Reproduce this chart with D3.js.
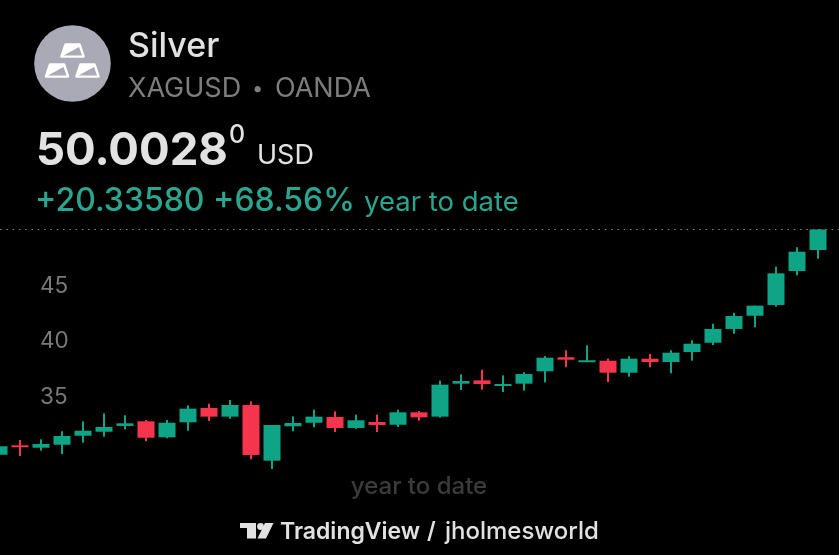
<!DOCTYPE html>
<html>
<head>
<meta charset="utf-8">
<script src="https://cdn.jsdelivr.net/npm/d3@7"></script>
<style>
  html, body { margin: 0; padding: 0; background: #000; }
  svg { display: block; font-family: Inter, "Noto Sans", sans-serif; filter: blur(0.4px); }
</style>
</head>
<body>
<svg id="chart" width="839" height="555"></svg>
<script>
// Candles, oldest first
const opens  = [29.71,30.56,30.34,30.61,31.42,31.78,32.30,32.72,31.28,32.63,33.92,33.14,34.19,29.17,32.27,32.59,33.11,32.12,32.66,32.41,33.53,33.14,36.11,36.41,35.90,36.11,37.23,38.49,38.06,38.18,37.10,38.36,38.06,38.96,39.80,41.04,42.23,43.20,46.26,48.15];
const highs  = [30.68,31.04,31.10,31.82,32.72,33.44,33.26,32.84,32.84,34.16,34.31,34.64,34.52,32.39,33.17,33.77,33.62,33.32,33.32,33.77,33.65,36.38,36.95,37.37,36.86,37.14,38.60,39.12,39.57,38.36,38.58,38.78,39.12,40.02,41.51,42.50,43.14,46.65,48.40,50.00];
const lows   = [29.50,29.59,30.07,29.77,30.79,31.33,32.00,30.92,31.19,31.87,32.75,32.95,29.30,28.42,31.82,32.18,31.76,32.05,31.76,32.21,32.77,33.05,35.54,35.57,35.36,35.48,36.23,37.59,38.06,36.26,36.74,37.59,37.05,38.18,39.59,40.61,41.19,43.05,45.87,47.37];
const closes = [30.47,30.38,30.68,31.40,31.87,32.21,32.54,31.24,32.59,33.86,33.14,34.19,29.68,32.39,32.57,33.14,32.12,32.81,32.39,33.53,33.08,36.02,36.35,36.08,36.08,36.98,38.45,38.27,38.22,37.10,38.36,38.06,38.90,39.71,41.04,42.21,43.14,46.05,48.00,50.00];
const priceTicks = [35, 40, 45];
const lastPrice = 50;

const upColor = '#0ea485';
const downColor = '#f5344e';
const candleWidth = 17;

const svg = d3.select('svg#chart');

// Scales
const x = d3.scaleLinear().domain([0, opens.length - 1]).range([-1, 818]);
const y = d3.scaleLinear().domain([45, 40, 35]).range([285, 340.5, 396]);

// Header and footer text
function label (px, py, str, size, weight, color, anchor) {
  return svg.append('text')
    .attr('x', px).attr('y', py)
    .attr('font-size', size).attr('font-weight', weight)
    .attr('fill', color).attr('text-anchor', anchor || 'start')
    .text(str);
}

// Silver icon
svg.append('circle').attr('cx', 72.5).attr('cy', 63.5).attr('r', 38.3).attr('fill', '#aaa9b6');
const ingots = [[72.5, 44.5], [57, 64.5], [87.5, 64.5]];
ingots.forEach(([ix, iy]) => {
  const g = svg.append('g').attr('transform', `translate(${ix},${iy})`);
  g.append('path')
    .attr('d', 'M-7,0 L7,0 L11,12 L-11,12 Z')
    .attr('fill', '#fff').attr('stroke', '#fff').attr('stroke-width', 2.5).attr('stroke-linejoin', 'round');
  // grey wedge on the lower face
  g.append('path').attr('d', 'M-9,11 L6.5,2.5 L9.5,11 Z').attr('fill', '#aaa9b6');
});

label(128, 57, 'Silver', 34, 500, '#e2e2e2');
label(128, 97, 'XAGUSD', 27, 400, '#7d7d7d');
label(252, 95, '•', 20, 400, '#7d7d7d');
label(275, 97, 'OANDA', 27, 400, '#7d7d7d');
label(36, 165, '50.0028', 45.5, 700, '#e2e2e2');
label(229, 143, '0', 25, 500, '#e2e2e2');
label(257, 164, 'USD', 27, 400, '#e2e2e2');
label(35, 211, '+20.33580 +68.56%', 32, 500, '#2aa58e');
label(364, 211, 'year to date', 27.5, 400, '#2aa58e');

label(419, 494, 'year to date', 24, 500, '#3b3b3b', 'middle');

// TradingView mark
svg.append('path')
  .attr('d', 'M240,523 H256 V538.5 H247 V528 H240 Z M273.5,523 H265 L257.5,538.5 H266 Z')
  .attr('fill', '#e2e2e2');
svg.append('circle').attr('cx', 260.5).attr('cy', 526.5).attr('r', 3.4).attr('fill', '#e2e2e2');
label(280, 539, 'TradingView', 23, 600, '#e2e2e2');
label(427, 539, '/', 23, 600, '#e2e2e2');
label(445, 539, 'jholmesworld', 24, 500, '#e2e2e2');

// Last price line
svg.append('line')
  .attr('x1', 0).attr('x2', 839)
  .attr('y1', y(lastPrice)).attr('y2', y(lastPrice))
  .attr('stroke', '#8a8a8a').attr('stroke-width', 1).attr('stroke-dasharray', '1.5,4.8');

// Price axis, labels only
const axis = svg.append('g')
  .attr('transform', 'translate(40,0)')
  .call(d3.axisRight(y).tickValues(priceTicks).tickSize(0).tickPadding(0));
axis.select('.domain').remove();
axis.selectAll('text')
  .attr('font-family', 'Inter, "Noto Sans", sans-serif')
  .attr('font-size', 22.5).attr('fill', '#7a7a7a');

// Candles
const candles = svg.append('g')
  .selectAll('g')
  .data(d3.range(opens.length))
  .join('g')
  .attr('fill', i => closes[i] >= opens[i] ? upColor : downColor);

candles.append('rect')
  .attr('x', i => x(i) - 1)
  .attr('width', 2)
  .attr('y', i => y(highs[i]))
  .attr('height', i => y(lows[i]) - y(highs[i]));

candles.append('rect')
  .attr('x', i => x(i) - candleWidth / 2)
  .attr('width', candleWidth)
  .attr('y', i => y(Math.max(opens[i], closes[i])))
  .attr('height', i => Math.max(2, Math.abs(y(opens[i]) - y(closes[i]))));
</script>
</body>
</html>
